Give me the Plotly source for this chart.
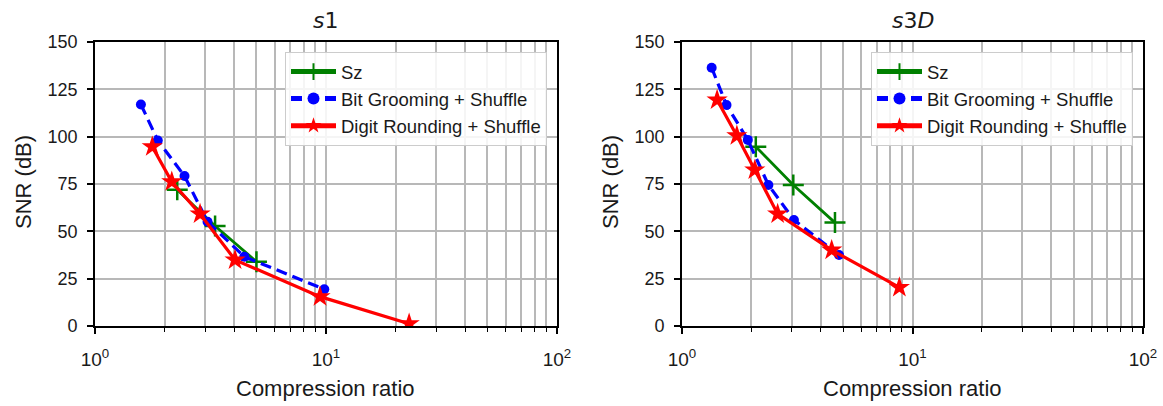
import plotly.graph_objects as go

# ---- data ----
s1_sz_x = [2.27, 3.31, 5.0]
s1_sz_y = [72.0, 52.8, 34.0]
s1_bg_x = [1.58, 1.87, 2.44, 3.07, 4.43, 9.83]
s1_bg_y = [117.0, 98.0, 79.2, 55.1, 36.6, 19.4]
s1_dr_x = [1.77, 2.15, 2.85, 4.04, 9.42, 22.9]
s1_dr_y = [94.7, 76.2, 59.2, 34.9, 15.5, 1.2]

s3_sz_x = [2.09, 3.04, 4.61]
s3_sz_y = [94.7, 74.5, 54.6]
s3_bg_x = [1.345, 1.56, 1.93, 2.37, 3.06, 4.80]
s3_bg_y = [136.4, 116.7, 98.3, 74.5, 56.0, 37.5]
s3_dr_x = [1.42, 1.73, 2.07, 2.60, 4.46, 8.77]
s3_dr_y = [119.4, 100.5, 82.4, 59.2, 40.1, 20.4]

series_names = ["Sz", "Bit Grooming + Shuffle", "Digit Rounding + Shuffle"]
titles = ["<i>s</i>1", "<i>s</i>3<i>D</i>"]
x_label = "Compression ratio"
y_label = "SNR (dB)"
x_tickvals = [1, 10, 100]
x_ticktext = ["10<sup>0</sup>", "10<sup>1</sup>", "10<sup>2</sup>"]
x_minor = [2, 3, 4, 5, 6, 7, 8, 9, 20, 30, 40, 50, 60, 70, 80, 90]
y_tickvals = [0, 25, 50, 75, 100, 125, 150]

W, H = 1163, 406
FONT = "Liberation Sans, Arial, sans-serif"
TXT = "#1a1a1a"
GRID = "#b8b8b8"

fig = go.Figure()

def add_panel(sz, bg, dr, xa, ya, legend, tag):
    fig.add_trace(go.Scatter(x=sz[0], y=sz[1], xaxis=xa, yaxis=ya, name=series_names[0],
                             mode="lines+markers", legend=legend, legendgroup=tag + "a",
                             line=dict(color="green", width=2.8),
                             marker=dict(symbol="cross-thin-open", size=15,
                                         line=dict(color="green", width=2.5))))
    fig.add_trace(go.Scatter(x=bg[0], y=bg[1], xaxis=xa, yaxis=ya, name=series_names[1],
                             mode="lines+markers", legend=legend, legendgroup=tag + "b",
                             line=dict(color="blue", width=3.2, dash="11px,6px"),
                             marker=dict(symbol="circle", size=10, color="blue")))
    fig.add_trace(go.Scatter(x=dr[0], y=dr[1], xaxis=xa, yaxis=ya, name=series_names[2],
                             mode="lines+markers", legend=legend, legendgroup=tag + "c",
                             line=dict(color="red", width=3.2),
                             marker=dict(symbol="star", size=16, color="red")))

add_panel((s1_sz_x, s1_sz_y), (s1_bg_x, s1_bg_y), (s1_dr_x, s1_dr_y), "x", "y", "legend", "l")
add_panel((s3_sz_x, s3_sz_y), (s3_bg_x, s3_bg_y), (s3_dr_x, s3_dr_y), "x2", "y2", "legend2", "r")

ydom = [1 - 326 / H, 1 - 42 / H]
xdoms = [[95 / W, 557 / W], [682 / W, 1143 / W]]

def xaxis(dom, anchor):
    return dict(domain=dom, anchor=anchor, type="log", range=[0, 2],
                tickmode="array", tickvals=x_tickvals, ticktext=x_ticktext,
                ticks="outside", ticklen=6, tickwidth=1.6, tickcolor="black",
                ticklabelstandoff=9,
                showline=True, linecolor="black", linewidth=1.6, mirror=True,
                showgrid=True, gridcolor=GRID, gridwidth=1.5,
                minor=dict(tickvals=x_minor, ticks="outside", ticklen=4, tickwidth=1.2,
                           tickcolor="black", showgrid=True, gridcolor=GRID, gridwidth=1.5),
                tickfont=dict(family=FONT, size=19, color=TXT),
                zeroline=False, automargin=False)

def yaxis(anchor):
    return dict(domain=ydom, anchor=anchor, range=[0, 150],
                tickmode="array", tickvals=y_tickvals,
                ticks="outside", ticklen=6, tickwidth=1.6, tickcolor="black",
                ticklabelstandoff=6,
                showline=True, linecolor="black", linewidth=1.6, mirror=True,
                showgrid=True, gridcolor=GRID, gridwidth=1.5,
                tickfont=dict(family=FONT, size=18, color=TXT),
                zeroline=False, automargin=False)

legend_style = dict(bgcolor="rgba(255,255,255,0.85)", bordercolor="#cccccc", borderwidth=1,
                    font=dict(family=FONT, size=18.5, color=TXT),
                    xanchor="right", yanchor="top", yref="paper", xref="paper",
                    tracegroupgap=0, itemsizing="constant", itemwidth=45)

annots = []
for i, dom in enumerate(xdoms):
    cx = (dom[0] + dom[1]) / 2
    annots.append(dict(text=titles[i], x=cx, y=1 - 20 / H, xref="paper", yref="paper",
                       showarrow=False, xanchor="center", yanchor="middle",
                       font=dict(family="DejaVu Sans", size=22, color=TXT)))
    annots.append(dict(text=x_label, x=cx, y=1 - 388 / H, xref="paper", yref="paper",
                       showarrow=False, xanchor="center", yanchor="middle",
                       font=dict(family=FONT, size=22, color=TXT)))
    annots.append(dict(text=y_label, x=(dom[0] * W - 72) / W, y=1 - 182 / H,
                       xref="paper", yref="paper", textangle=-90,
                       showarrow=False, xanchor="center", yanchor="middle",
                       font=dict(family=FONT, size=22, color=TXT)))

fig.update_layout(
    width=W, height=H,
    margin=dict(l=0, r=0, t=0, b=0),
    paper_bgcolor="white", plot_bgcolor="white",
    xaxis=xaxis(xdoms[0], "y"),
    yaxis=yaxis("x"),
    xaxis2=xaxis(xdoms[1], "y2"),
    yaxis2=yaxis("x2"),
    legend=dict(x=547 / W, y=1 - 52 / H, **legend_style),
    legend2=dict(x=1133 / W, y=1 - 52 / H, **legend_style),
    font=dict(family=FONT),
    annotations=annots,
)

fig.write_html("out.html", config={"displayModeBar": False},
               post_script="document.body.style.margin='0px';")
